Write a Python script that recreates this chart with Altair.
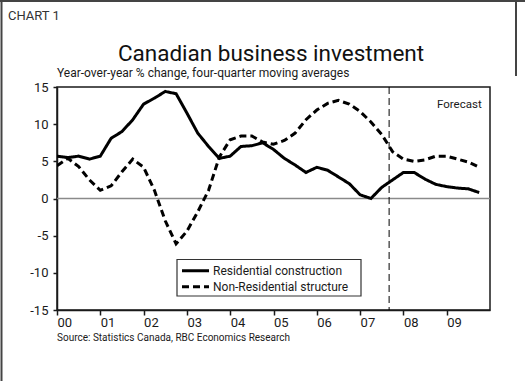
import altair as alt
import pandas as pd

# Quarterly periods, 2000Q1 through 2009Q4
periods = pd.period_range("2000Q1", "2009Q4", freq="Q")

# Year-over-year % change, four-quarter moving averages
residential = [5.7, 5.5, 5.7, 5.3, 5.7, 8.1, 9.0, 10.6, 12.7, 13.5,
               14.4, 14.1, 11.5, 8.8, 7.0, 5.4, 5.7, 7.0, 7.1, 7.5,
               6.6, 5.4, 4.5, 3.5, 4.2, 3.8, 2.9, 2.0, 0.5, 0.0,
               1.5, 2.5, 3.5, 3.5, 2.6, 1.9, 1.6, 1.4, 1.3, 0.8]
non_residential = [4.4, 5.4, 4.3, 2.5, 1.1, 1.7, 3.6, 5.3, 4.2, 1.1,
                   -3.0, -6.1, -4.4, -1.8, 1.1, 5.6, 7.9, 8.4, 8.4, 7.6,
                   7.3, 7.8, 8.8, 10.6, 11.9, 12.8, 13.2, 12.7, 11.7, 10.3,
                   8.6, 6.3, 5.3, 5.0, 5.2, 5.7, 5.7, 5.3, 4.9, 4.2]
series_names = ["Residential construction", "Non-Residential structure"]
series_dash = [[1, 0], [7, 4]]

year_ticks = list(range(2000, 2010))
y_ticks = [-15, -10, -5, 0, 5, 10, 15]
forecast_start = 2007.67

t = [p.year + (p.quarter - 1) / 4 for p in periods]
df = pd.concat([
    pd.DataFrame({"t": t, "value": residential, "series": series_names[0]}),
    pd.DataFrame({"t": t, "value": non_residential, "series": series_names[1]}),
])

FONT = "Roboto, sans-serif"
INK = "#1a1a1a"

W, H = 433, 223
LEFT, TOP = 57, 87

x_scale = alt.Scale(domain=[2000, 2010], nice=False)
y_scale = alt.Scale(domain=[-15, 15], nice=False)
dash_scale = alt.Scale(domain=series_names, range=series_dash)

# Shared axis definitions, used by every layer so the merged axes agree
x_axis = alt.Axis(values=year_ticks, labelAlign="left",
                  labelExpr="substring(toString(datum.value), 2, 4)",
                  labelPadding=1, tickSize=5, labelOverlap=False)
y_axis = alt.Axis(values=y_ticks, tickSize=4, labelPadding=5,
                  labelOverlap=False, labelExpr="toString(datum.value)")

lines = alt.Chart(df).mark_line(color="black", strokeWidth=3, clip=True).encode(
    x=alt.X("t:Q", scale=x_scale, title=None, axis=x_axis),
    y=alt.Y("value:Q", scale=y_scale, title=None, axis=y_axis),
    strokeDash=alt.StrokeDash("series:N", scale=dash_scale, legend=None),
)

zero = alt.Chart(pd.DataFrame({"v": [0]})).mark_rule(color="#8a8a8a", strokeWidth=1.5).encode(
    y=alt.Y("v:Q", scale=y_scale, title=None, axis=y_axis)
)

forecast = alt.Chart(pd.DataFrame({"t": [forecast_start]})).mark_rule(
    color="black", strokeWidth=1, strokeDash=[7, 4]
).encode(x=alt.X("t:Q", scale=x_scale, title=None, axis=x_axis))


def label(text, x, y, size, align="left", color=INK):
    return alt.Chart(pd.DataFrame({"s": [text]})).mark_text(
        align=align, baseline="alphabetic", fontSize=size, font=FONT, color=color
    ).encode(text="s:N", x=alt.value(x), y=alt.value(y))


texts = [
    label("CHART 1", 8 - LEFT, 20 - TOP, 13, color="#333"),
    label("Canadian business investment", 271 - LEFT, 61 - TOP, 22.5,
          align="center", color="#111"),
    label("Year-over-year % change, four-quarter moving averages", 0, 77 - TOP, 12),
    label("Source: Statistics Canada, RBC Economics Research", 0, 341 - TOP, 10),
    label("Forecast", 437 - LEFT, 108 - TOP, 11.5),
]

# Legend: framed box with one line sample and label per series
leg_x0, leg_y0, leg_x1, leg_y1 = 177 - LEFT, 259.5 - TOP, 361 - LEFT, 296 - TOP
legend_box = alt.Chart(pd.DataFrame({"k": [0]})).mark_rect(
    fill="white", stroke="#333", strokeWidth=1.2
).encode(x=alt.value(leg_x0), x2=alt.value(leg_x1),
         y=alt.value(leg_y0), y2=alt.value(leg_y1))

legend_items = []
for i, (name, dash) in enumerate(zip(series_names, series_dash)):
    row_y = 270.7 - TOP + 16 * i
    legend_items.append(
        alt.Chart(pd.DataFrame({"s": [name]})).mark_rule(
            color="black", strokeWidth=3, strokeDash=dash
        ).encode(x=alt.value(182 - LEFT), x2=alt.value(209 - LEFT),
                 y=alt.value(row_y))
    )
    legend_items.append(label(name, 213 - LEFT, row_y + 4.5, 12))


def frame_line(x1, y1, x2, y2):
    return alt.Chart(pd.DataFrame({"k": [0]})).mark_rule(color="#444", strokeWidth=2).encode(
        x=alt.value(x1 - LEFT), x2=alt.value(x2 - LEFT),
        y=alt.value(y1 - TOP), y2=alt.value(y2 - TOP)
    )


frame = [
    frame_line(0, 1, 525, 1),
    frame_line(1.5, 0, 1.5, 381),
    frame_line(516, 0, 516, 76),
]

chart = alt.layer(zero, forecast, lines, legend_box, *legend_items, *texts, *frame).properties(
    width=W, height=H,
    padding={"left": LEFT, "top": TOP, "right": 525 - LEFT - W, "bottom": 381 - TOP - H},
    autosize=alt.AutoSizeParams(type="none"),
    background="white",
).configure_view(
    stroke=INK, strokeWidth=1.5
).configure_axis(
    domainColor=INK, domainWidth=1.5, tickColor=INK, tickWidth=1.5,
    labelFont=FONT, labelFontSize=13, labelColor=INK, grid=False
)

chart.save("out.html", embed_options={"renderer": "svg", "actions": False})
